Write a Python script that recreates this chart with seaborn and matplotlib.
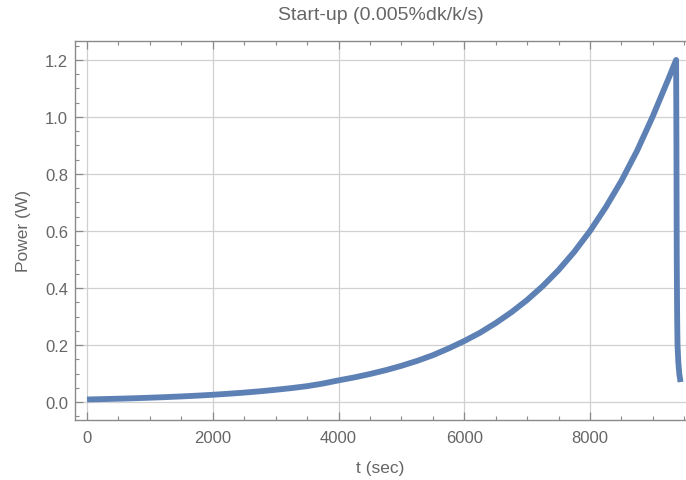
import matplotlib
matplotlib.use("Agg")
import matplotlib.pyplot as plt
from matplotlib.ticker import MultipleLocator
import seaborn as sns
import pandas as pd

# Time (s) and power (W)
t_sec = [0, 250, 500, 750, 1000, 1250, 1500, 1750, 2000, 2250, 2500, 2750,
         3000, 3250, 3500, 3750, 4000, 4250, 4500, 4750, 5000, 5250, 5500,
         5750, 6000, 6250, 6500, 6750, 7000, 7250, 7500, 7750, 8000, 8250,
         8500, 8750, 9000, 9250, 9370,
         9375, 9380, 9386, 9392, 9405, 9420, 9440]
power_w = [0.0090, 0.0103, 0.0117, 0.0133, 0.0152, 0.0173, 0.0197, 0.0224,
           0.0255, 0.0291, 0.0331, 0.0377, 0.0430, 0.0489, 0.0557, 0.0648,
           0.0760, 0.0864, 0.0983, 0.1117, 0.1270, 0.1444, 0.1642, 0.1880,
           0.2140, 0.2430, 0.2770, 0.3150, 0.3580, 0.4070, 0.4630, 0.5270,
           0.6000, 0.6830, 0.7760, 0.8820, 1.0030, 1.1350, 1.2000,
           0.900, 0.500, 0.300, 0.200, 0.140, 0.100, 0.070]

title = "Start-up (0.005%dk/k/s)"
xlabel = "t (sec)"
ylabel = "Power (W)"
x_ticks = [0, 2000, 4000, 6000, 8000]
y_ticks = [0.0, 0.2, 0.4, 0.6, 0.8, 1.0, 1.2]

sns.set_theme(style="white")
plt.rcParams['font.family'] = ['Liberation Sans', 'DejaVu Sans']

df = pd.DataFrame({"t": t_sec, "P": power_w})

fig = plt.figure(figsize=(6.86, 4.81), dpi=100)
ax = fig.add_axes([75 / 686, 1 - 421 / 481, 611 / 686, 379 / 481])

text_c = "#666666"
frame_c = "#8a8a8a"

sns.lineplot(data=df, x="t", y="P", sort=False, estimator=None, ax=ax,
             color="#5E81B5", linewidth=4.2, solid_capstyle="butt",
             solid_joinstyle="round", zorder=3)

ax.set_xlim(-191, 9527)
ax.set_ylim(-0.063, 1.2665)
ax.set_xticks(x_ticks)
ax.set_yticks(y_ticks)
ax.set_xticklabels([str(v) for v in x_ticks])
ax.set_yticklabels([f"{v:.1f}" for v in y_ticks])
ax.xaxis.set_minor_locator(MultipleLocator(500))
ax.yaxis.set_minor_locator(MultipleLocator(0.05))

ax.grid(True, which="major", color="#d0d0d0", linewidth=0.9)
ax.set_axisbelow(True)

for side in ["left", "bottom", "top"]:
    ax.spines[side].set_visible(True)
    ax.spines[side].set_color(frame_c)
    ax.spines[side].set_linewidth(1.0)
ax.spines["right"].set_visible(False)

ax.tick_params(axis="both", which="major", direction="in", length=6,
               width=0.9, color=frame_c, labelcolor=text_c, labelsize=12,
               top=True, bottom=True, left=True)
ax.tick_params(axis="both", which="minor", direction="in", length=3,
               width=0.8, color=frame_c, top=True, bottom=True, left=True)
ax.tick_params(axis="x", pad=7)
ax.tick_params(axis="y", pad=5)

ax.set_title(title, color=text_c, fontsize=14, pad=16)
ax.set_xlabel(xlabel, color=text_c, fontsize=12.5, labelpad=11)
ax.set_ylabel(ylabel, color=text_c, fontsize=12.5, labelpad=10)

fig.savefig("out.png", dpi=100)
